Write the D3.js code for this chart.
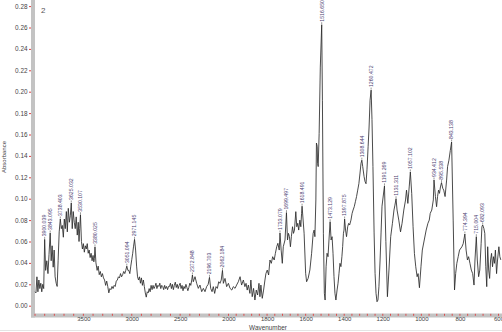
<!DOCTYPE html>
<html><head><meta charset="utf-8">
<script src="https://cdn.jsdelivr.net/npm/d3@7"></script>
<style>
body{margin:0;background:#fff}
svg{display:block}
text{font-family:Arial,"Liberation Sans",sans-serif}
</style>
</head><body>
<svg id="c" width="502" height="332"></svg>
<script>
// ---- data: [wavenumber (cm-1), absorbance] ----
const spectrum4000to3380 = [
[4000,.013],[3990,.012],[3980,.027],[3970,.013],[3960,.024],[3950,.016],[3940,.021],[3930,.013],[3920,.020],[3910,.016],
[3900.039,.062],[3890,.033],[3878,.042],[3866,.030],[3855,.048],[3843.095,.068],[3833,.042],[3823,.056],[3812,.036],[3802,.052],
[3792,.027],[3781,.021],[3771,.018],[3761,.042],[3750,.069],[3738.403,.081],[3728,.072],[3718,.075],[3707,.064],[3697,.081],
[3687,.072],[3676,.088],[3666,.069],[3656,.091],[3645,.078],[3635,.084],[3625.032,.096],[3615,.072],[3605,.088],[3594,.078],
[3584,.072],[3574,.083],[3563,.066],[3553,.078],[3545,.060],[3538,.072],[3530.107,.085],[3520,.060],[3510,.053],[3500,.058],
[3490,.050],[3480,.056],[3470,.053],[3460,.058],[3450,.049],[3440,.052],[3430,.045],[3420,.049],[3410,.042],[3400,.047],
[3392,.041],[3386,.044],[3380.025,.055]
];
const spectrum3370to2000 = [
[3370,.040],[3358,.033],[3347,.037],[3336,.029],[3325,.032],[3314,.027],[3303,.030],[3292,.026],[3281,.024],[3270,.019],
[3259,.023],[3248,.018],[3237,.012],[3226,.016],[3215,.015],[3204,.018],[3193,.016],[3182,.019],[3171,.018],[3160,.023],
[3149,.024],[3138,.027],[3127,.026],[3116,.030],[3105,.027],[3094,.029],[3083,.032],[3072,.030],[3062,.033],[3051.094,.037],
[3040,.033],[3030,.033],[3020,.030],[3010,.037],[3000,.043],[2990,.049],[2982,.055],[2971.145,.062],[2960,.052],[2950,.037],
[2940,.027],[2930,.024],[2920,.027],[2910,.021],[2900,.026],[2890,.019],[2880,.024],[2870,.018],[2860,.012],[2850,.008],
[2840,.013],[2830,.012],[2820,.016],[2810,.013],[2800,.019],[2790,.015],[2780,.019],[2770,.016],[2760,.018],[2750,.021],
[2740,.016],[2730,.019],[2720,.018],[2710,.021],[2700,.016],[2690,.019],[2680,.018],[2670,.015],[2660,.019],[2650,.016],
[2640,.018],[2630,.015],[2620,.018],[2610,.018],[2600,.021],[2590,.016],[2580,.020],[2570,.015],[2560,.019],[2550,.022],
[2540,.017],[2530,.020],[2520,.016],[2510,.019],[2500,.021],[2490,.016],[2480,.019],[2470,.014],[2460,.018],[2450,.016],
[2440,.020],[2430,.017],[2420,.014],[2410,.017],[2400,.021],[2390,.019],[2380,.024],[2372.848,.0287],[2364,.0224],[2346,.0271],
[2329,.0209],[2312,.0162],[2295,.0193],[2277,.0131],[2260,.0162],[2243,.0131],[2226,.0178],[2210,.020],[2196.703,.0265],[2184,.0162],
[2170,.0131],[2157,.0178],[2143,.0115],[2129,.0178],[2115,.0162],[2101,.0224],[2088,.0209],[2075,.024],[2062.184,.033],[2053,.0209],
[2036,.0255],[2019,.0178],[2001,.0209]
];
const spectrum1992to1401 = [
[1992,.0162],[1983,.0146],[1975,.0178],[1966,.0162],[1958,.0193],[1949,.0224],[1940,.0271],[1932,.0193],[1923,.024],[1915,.0178],
[1909,.0209],[1903,.0146],[1897,.0193],[1889,.0115],[1884,.024],[1877,.0084],[1870,.0162],[1863,.0053],[1856,.0146],[1849,.010],
[1842,.0209],[1837,.0084],[1832,.0193],[1825,.0069],[1818,.0146],[1811,.024],[1806,.030],[1799,.0333],[1792,.0287],[1785,.0427],
[1778,.0396],[1771,.0458],[1763,.0427],[1757,.0489],[1750,.0551],[1744,.0583],[1737,.052],[1733.079,.068],[1727,.052],[1721,.0396],
[1716,.0551],[1707,.0614],[1699.497,.087],[1694,.0614],[1689,.0676],[1684,.0645],[1679,.0551],[1674,.0645],[1668,.0738],[1663,.0676],
[1658,.0707],[1651,.0879],[1646,.0738],[1641,.077],[1636,.0707],[1630,.080],[1625,.0738],[1621,.0863],[1618.491,.093],[1608,.0677],
[1600,.0303],[1595,.0224],[1587,.0256],[1578,.0334],[1569,.049],[1561,.0677],[1556,.0707],[1552,.0645],[1547,.0988],[1544,.152],
[1540,.149],[1538,.133],[1535,.130],[1530,.161],[1524,.223],[1516.650,.2626],[1513,.192],[1508,.0677],[1503,.0116],[1499,.0053],
[1494,.0364],[1489,.049],[1484,.0458],[1479,.0614],[1473.129,.0785],[1468,.0614],[1463,.0645],[1458,.049],[1453,.0272],[1448,.0116],
[1443,.0053],[1437,.0147],[1432,.021],[1427,.0303],[1422,.0396],[1417,.0365],[1412,.0458],[1408,.0552],[1404,.0677],[1401,.0707]
];
const spectrum1398to588 = [
[1397.875,.081],[1393,.0707],[1388,.0645],[1382,.0738],[1377,.0769],[1372,.0754],[1365,.080],[1359,.0863],[1354,.0894],[1348,.0925],
[1342,.0972],[1336,.102],[1330,.108],[1324,.114],[1318,.124],[1313,.133],[1308.644,.136],[1304,.130],[1297,.1206],[1292,.116],
[1287,.114],[1282,.127],[1276,.149],[1271,.167],[1266,.192],[1260.472,.2015],[1256,.174],[1251,.130],[1245,.068],[1240,.0302],
[1235,.0115],[1230,.0037],[1225,.0053],[1220,.0177],[1214,.0427],[1209,.068],[1204,.093],[1191.269,.112],[1184,.060],[1176,.0084],
[1168,.0333],[1159,.0645],[1150,.077],[1142,.0894],[1137,.094],[1131.311,.100],[1126,.0894],[1117,.080],[1108,.069],[1100,.077],
[1091,.0894],[1082,.0988],[1077,.108],[1070,.0956],[1063,.111],[1057.102,.125],[1050,.105],[1043,.0738],[1036,.0489],[1029,.0364],
[1022,.0271],[1017,.030],[1010,.0168],[1002,.0364],[995,.052],[985,.0614],[975,.0707],[966,.077],[959,.080],[954,.0863],
[946,.0894],[938,.0988],[934.412,.1175],[927,.102],[921,.0925],[916,.102],[911,.108],[906,.105],[901,.111],[895.538,.115],
[889,.1097],[884,.108],[877,.102],[869,.1174],[864,.130],[857,.136],[850,.145],[843.138,.153],[835,.080],[828,.0147],
[822,.0302],[816,.0396],[809,.0458],[802,.052],[790,.055],[783,.058],[774.394,.067],[768,.052],[761,.0427],[755,.0458],
[748,.0396],[741,.0333],[734,.030],[727,.0193],[722,.0427],[715.004,.0645],[710,.0427],[703,.0271],[697,.0333],[690,.0583],
[686,.0738],[682.093,.0755],[676,.0723],[671,.0676],[666,.0364],[661,.0178],[656,.0551],[651,.0333],[646,.0255],[641,.0427],
[636,.0489],[631,.0364],[626,.0458],[621,.0396],[616,.052],[610,.030],[605,.0427],[598,.0551],[593,.0458],[588,.0428]
];
const peakLabels = ["3900.039","3843.095","3738.403","3625.032","3530.107","3380.025","3051.094","2971.145",
  "2372.848","2196.703","2062.184","1733.079","1699.497","1618.491","1516.650","1473.129","1397.875",
  "1308.644","1260.472","1191.269","1131.311","1057.102","934.412","895.538","843.138","774.394","715.004","682.093"];
const xTickValues = [3500,3000,2500,2000,1800,1600,1400,1200,1000,800,600];
const yTickValues = [0,0.02,0.04,0.06,0.08,0.10,0.12,0.14,0.16,0.18,0.20,0.22,0.24,0.26,0.28];
const sampleName = "2";
const xTitle = "Wavenumber";
const yTitle = "Absorbance";

// ---- drawing ----
const spectrum = [].concat(spectrum4000to3380, spectrum3370to2000, spectrum1992to1401, spectrum1398to588);
const svg = d3.select("#c");
const x = d3.scaleLinear().domain([4000,2000,600]).range([35,228.5,498.5]);
const y = d3.scaleLinear().domain([0,0.28]).range([305.7,6.1]);

// axis bars
svg.append("rect").attr("x",31).attr("y",0).attr("width",4).attr("height",317.5).attr("fill","#c3c3c3");
svg.append("rect").attr("x",31).attr("y",313.5).attr("width",471).attr("height",4).attr("fill","#c3c3c3");
svg.append("line").attr("x1",0).attr("x2",502).attr("y1",330.5).attr("y2",330.5).attr("stroke","#e4e4e4");

// y axis
const yAxis = d3.axisLeft(y).tickValues(yTickValues).tickFormat(d3.format(".2f")).tickSize(2).tickPadding(1.5);
const gy = svg.append("g").attr("transform","translate(31,0)").call(yAxis);
gy.select(".domain").remove();
gy.selectAll(".tick line").attr("stroke","#e04040");
gy.selectAll(".tick text").attr("font-size","6.4px").attr("fill","#444").attr("font-family","Arial,'Liberation Sans',sans-serif");

// x axis
const minor = d3.range(4000,2000,-100).concat(d3.range(2000,599,-40));
svg.append("g").selectAll("line").data(minor).join("line")
  .attr("x1",d=>x(d)).attr("x2",d=>x(d)).attr("y1",313.8).attr("y2",315.8)
  .attr("stroke","#e04040").attr("stroke-width",0.9);
const xAxis = d3.axisBottom(x).tickValues(xTickValues).tickFormat(d3.format("d")).tickSize(0).tickPadding(0);
const gx = svg.append("g").attr("transform","translate(0,317.5)").call(xAxis);
gx.select(".domain").remove();
gx.selectAll(".tick text").attr("font-size","6px").attr("fill","#444").attr("dy","0.55em").attr("font-family","Arial,'Liberation Sans',sans-serif");

// titles
svg.append("text").attr("x",268).attr("y",329.6).attr("text-anchor","middle").attr("font-size","6.4px").attr("fill","#444").text(xTitle);
svg.append("text").attr("transform","translate(5.8,157) rotate(-90)").attr("text-anchor","middle").attr("font-size","6px").attr("fill","#444").text(yTitle);
svg.append("text").attr("x",41).attr("y",12.5).attr("font-size","8px").attr("fill","#555").text(sampleName);

// spectrum line
const line = d3.line().x(d=>x(d[0])).y(d=>y(d[1]));
svg.append("path").datum(spectrum).attr("d",line).attr("fill","none")
  .attr("stroke","#2a2a2a").attr("stroke-width",0.85).attr("stroke-linejoin","round");

// peak labels
const peaks = peakLabels.map(l => spectrum.find(d => Math.abs(d[0] - (+l)) < 1e-6)).filter(Boolean);
const gp = svg.append("g");
gp.selectAll("line").data(peaks).join("line")
  .attr("x1",d=>x(d[0])).attr("x2",d=>x(d[0])).attr("y1",d=>y(d[1])-0.5).attr("y2",d=>y(d[1])-2.5)
  .attr("stroke","#555").attr("stroke-width",0.6);
gp.selectAll("text").data(peaks).join("text")
  .attr("transform",d=>`translate(${x(d[0])+1.8},${y(d[1])-3})rotate(-90)`)
  .attr("font-size","5.2px").attr("fill","#4d4272")
  .text((d,i)=>peakLabels[i]);
</script>
</body></html>
